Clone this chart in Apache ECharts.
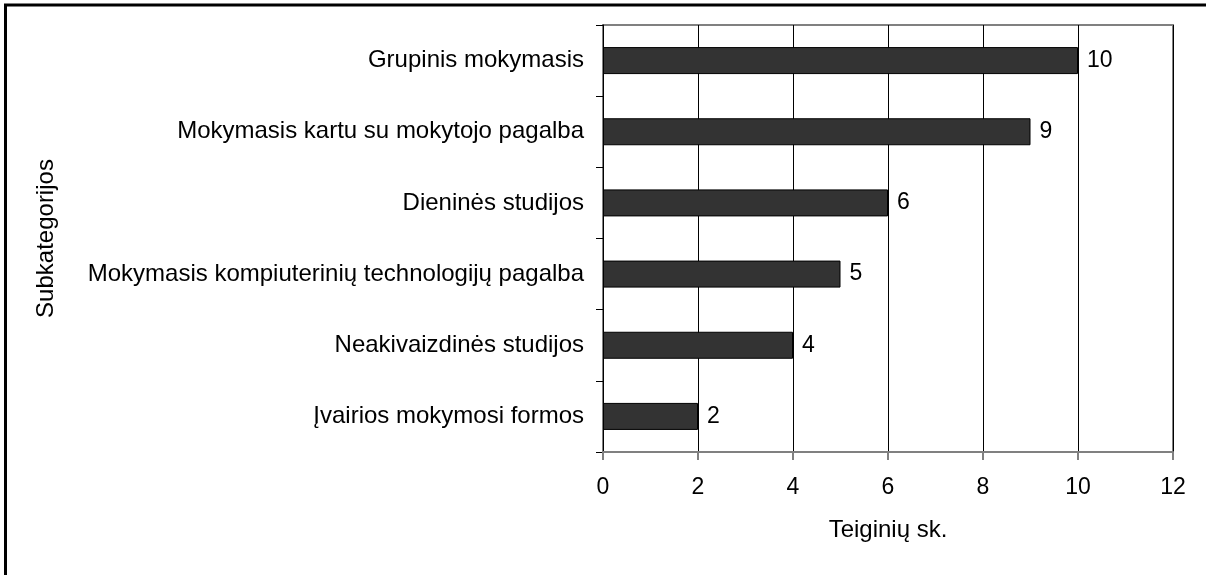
<!DOCTYPE html>
<html>
<head>
<meta charset="utf-8">
<script src="https://cdn.jsdelivr.net/npm/echarts@6/dist/echarts.min.js"></script>
<style>
  html, body { margin: 0; padding: 0; background: #fff; }
  #chart { width: 1206px; height: 575px; }
</style>
</head>
<body>
<div id="chart"></div>
<script>
// kategorijos (nuo apačios į viršų)
const categories = [
  'Įvairios mokymosi formos',
  'Neakivaizdinės studijos',
  'Mokymasis kompiuterinių technologijų pagalba',
  'Dieninės studijos',
  'Mokymasis kartu su mokytojo pagalba',
  'Grupinis mokymasis'
];
const values = [2, 4, 5, 6, 9, 10];
const xName = 'Teiginių sk.';
const yName = 'Subkategorijos';

const font = 'Arial, "Liberation Sans", sans-serif';

const chart = echarts.init(document.getElementById('chart'));

chart.setOption({
  backgroundColor: '#ffffff',
  animation: false,
  graphic: [{
    type: 'rect',
    shape: { x: 5.5, y: 5, width: 1400, height: 1000 },
    style: { fill: 'none', stroke: '#000', lineWidth: 3 },
    z: 100
  }],
  grid: {
    left: 603,
    top: 25,
    right: 33,
    bottom: 123,
    show: true,
    borderColor: '#808080',
    borderWidth: 2,
    backgroundColor: 'transparent'
  },
  xAxis: {
    type: 'value',
    min: 0,
    max: 12,
    interval: 2,
    name: xName,
    nameLocation: 'middle',
    nameGap: 66,
    nameTextStyle: { fontFamily: font, fontSize: 24, color: '#000' },
    axisLine: { show: true, lineStyle: { color: '#808080', width: 2 } },
    axisTick: { show: true, length: 8, lineStyle: { color: '#808080', width: 2 } },
    axisLabel: { fontFamily: font, fontSize: 23, color: '#000', margin: 24 },
    splitLine: { show: true, lineStyle: { color: '#000', width: 1 } }
  },
  yAxis: {
    type: 'category',
    data: categories,
    name: yName,
    nameLocation: 'middle',
    nameGap: 545,
    nameRotate: 90,
    nameTextStyle: { fontFamily: font, fontSize: 24, color: '#000' },
    axisLine: { show: true, lineStyle: { color: '#000', width: 1 } },
    axisTick: { show: true, length: 7, lineStyle: { color: '#000', width: 1 } },
    axisLabel: { fontFamily: font, fontSize: 24, color: '#000', margin: 19 },
    splitLine: { show: false }
  },
  series: [{
    type: 'bar',
    data: values,
    barWidth: 27,
    itemStyle: { color: '#333333', borderColor: '#000', borderWidth: 1 },
    label: {
      show: true,
      position: 'right',
      distance: 9,
      fontFamily: font,
      fontSize: 23,
      color: '#000'
    }
  }]
});
</script>
</body>
</html>
